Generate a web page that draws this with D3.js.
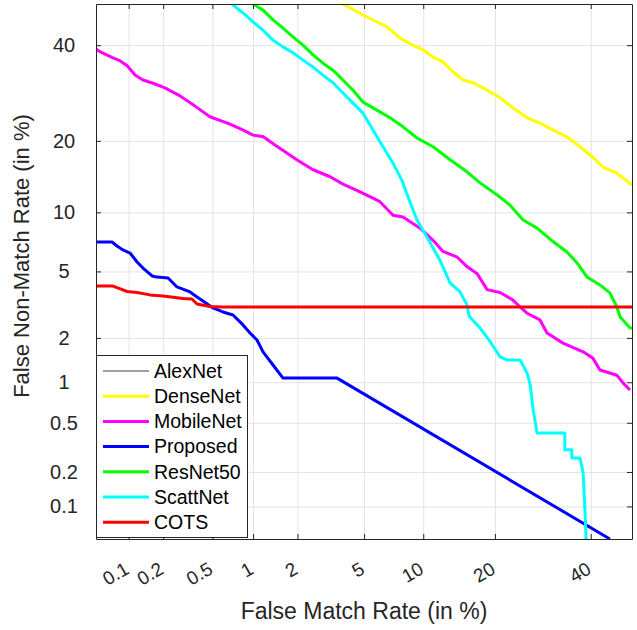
<!DOCTYPE html>
<html>
<head>
<meta charset="utf-8">
<script src="https://cdn.jsdelivr.net/npm/d3@7"></script>
<style>
  body { margin: 0; background: #fff; }
  svg { font-family: "Liberation Sans", Arial, sans-serif; }
</style>
</head>
<body>
<svg id="chart" width="637" height="630"></svg>
<script>
// tick values are in percent, axes use a normal-deviate (DET) scale
var tickValues = [0.1, 0.2, 0.5, 1, 2, 5, 10, 20, 40]
var tickLabels = ['0.1', '0.2', '0.5', '1', '2', '5', '10', '20', '40']
var axisMin = 0.05
var axisMax = 50

var names = ['AlexNet', 'DenseNet', 'MobileNet', 'Proposed', 'ResNet50', 'ScattNet', 'COTS']
var colors = ['#808080', '#ffff00', '#ff00ff', '#0000ff', '#00ff00', '#00ffff', '#ff0000']

// [FMR %, FNMR %]
var alexNet = []

var denseNet = [
  [3.8, 50], [4.93, 47.3], [5.87, 45.6], [6.63, 44.4], [7.72, 41.7], [8.94, 40.0],
  [9.97, 38.9], [11.1, 37.2], [12.3, 36.1], [13.6, 33.8], [15.0, 32.0], [16.45, 31.4],
  [18.7, 29.8], [20.9, 28.2], [23.25, 26.1], [26.0, 24.2], [28.6, 23.2], [31.4, 21.9],
  [34.5, 20.7], [37.5, 19.0], [40.5, 17.3], [42.9, 15.8], [46.3, 14.9], [50, 13.3]
]

var mobileNet = [
  [0.05, 39.1], [0.055, 38.4], [0.072, 37.0], [0.084, 36.3], [0.097, 35.2], [0.114, 33.1],
  [0.134, 32.0], [0.164, 31.3], [0.207, 30.3], [0.276, 28.6], [0.365, 26.5], [0.478, 24.4],
  [0.68, 23.0], [0.85, 21.9], [1.0, 21.0], [1.18, 20.7], [1.42, 19.3], [1.98, 16.9],
  [2.51, 15.4], [3.19, 14.4], [3.8, 13.4], [4.75, 12.4], [5.73, 11.5], [6.09, 11.2],
  [7.12, 9.7], [7.99, 9.5], [9.66, 8.4], [11.1, 7.3], [12.3, 6.4], [14.1, 6.0],
  [15.6, 5.3], [17.1, 4.85], [18.7, 3.95], [20.9, 3.8], [23.2, 3.44], [24.6, 3.12],
  [25.9, 2.87], [28.6, 2.6], [30.1, 2.15], [33.6, 1.85], [38.2, 1.62], [40.5, 1.47],
  [42.2, 1.22], [46.3, 1.12], [47.8, 0.99], [49.5, 0.88]
]

var proposed = [
  [0.05, 7.16], [0.0706, 7.16], [0.0784, 6.83], [0.089, 6.52], [0.103, 6.28], [0.119, 5.63],
  [0.134, 5.22], [0.161, 4.72], [0.177, 4.65], [0.22, 4.6], [0.261, 4.09], [0.333, 3.83],
  [0.379, 3.58], [0.422, 3.39], [0.505, 3.08], [0.602, 2.91], [0.715, 2.79], [0.847, 2.42],
  [0.951, 2.15], [1.066, 1.94], [1.175, 1.62], [1.377, 1.32], [1.608, 1.07], [3.51, 1.07],
  [44.6, 0.05]
]

var resNet50 = [
  [1.0, 50], [1.175, 48.5], [1.377, 46.1], [1.608, 44.1], [1.87, 42.0], [2.17, 40.0],
  [2.51, 37.7], [2.89, 35.8], [3.32, 34.2], [3.8, 32.0], [4.34, 29.8], [4.93, 27.3],
  [5.87, 25.7], [6.87, 24.2], [7.99, 22.5], [9.34, 20.5], [11.1, 19.0], [13.2, 16.9],
  [15.55, 15.1], [17.5, 13.6], [20.4, 12.0], [22.7, 10.8], [25.2, 9.2], [28.0, 8.4],
  [31.4, 7.2], [34.5, 6.36], [36.8, 5.56], [39.1, 4.66], [42.2, 4.2], [44.6, 3.78],
  [46.3, 3.12], [47.1, 2.71], [49.5, 2.32], [50, 2.3]
]

var scattNet = [
  [0.703, 50], [0.847, 47.8], [1.0, 45.6], [1.175, 43.6], [1.377, 41.2], [1.608, 39.6],
  [1.87, 38.2], [2.17, 36.5], [2.51, 34.9], [2.89, 33.1], [3.32, 31.4], [3.8, 29.2],
  [4.34, 27.1], [4.93, 25.1], [5.59, 21.9], [6.32, 19.0], [7.11, 16.4], [7.89, 13.9],
  [8.45, 11.8], [9.34, 9.2], [10.4, 7.6], [11.9, 5.77], [13.2, 4.31], [14.55, 3.83],
  [15.55, 3.21], [15.85, 2.75], [17.4, 2.35], [19.0, 1.94], [20.9, 1.5], [22.1, 1.43],
  [24.6, 1.43], [26.0, 1.16], [26.6, 0.956], [27.2, 0.626], [28.0, 0.416], [34.0, 0.416],
  [34.0, 0.305], [35.6, 0.305], [35.6, 0.262], [37.5, 0.262], [38.2, 0.196], [38.6, 0.099],
  [38.9, 0.051], [39.1, 0.04]
]

var cots = [
  [0.05, 4.14], [0.072, 4.14], [0.0784, 4.05], [0.097, 3.85], [0.119, 3.8], [0.154, 3.68],
  [0.199, 3.63], [0.292, 3.5], [0.345, 3.48], [0.379, 3.25], [0.478, 3.14], [0.6, 3.12],
  [50, 3.12]
]

var series = [alexNet, denseNet, mobileNet, proposed, resNet50, scattNet, cots]

// inverse normal cdf (Acklam)
function probit(p) {
  var a = [-3.969683028665376e+01, 2.209460984245205e+02, -2.759285104469687e+02, 1.383577518672690e+02, -3.066479806614716e+01, 2.506628277459239e+00]
  var b = [-5.447609879822406e+01, 1.615858368580409e+02, -1.556989798598866e+02, 6.680131188771972e+01, -1.328068155288572e+01]
  var c = [-7.784894002430293e-03, -3.223964580411365e-01, -2.400758277161838e+00, -2.549732539343734e+00, 4.374664141464968e+00, 2.938163982698783e+00]
  var d = [7.784695709041462e-03, 3.224671290700398e-01, 2.445134137142996e+00, 3.754408661907416e+00]
  var plow = 0.02425, q, r
  if (p < plow) {
    q = Math.sqrt(-2 * Math.log(p))
    return (((((c[0]*q+c[1])*q+c[2])*q+c[3])*q+c[4])*q+c[5]) / ((((d[0]*q+d[1])*q+d[2])*q+d[3])*q+1)
  }
  if (p <= 1 - plow) {
    q = p - 0.5; r = q * q
    return (((((a[0]*r+a[1])*r+a[2])*r+a[3])*r+a[4])*r+a[5])*q / (((((b[0]*r+b[1])*r+b[2])*r+b[3])*r+b[4])*r+1)
  }
  q = Math.sqrt(-2 * Math.log(1 - p))
  return -(((((c[0]*q+c[1])*q+c[2])*q+c[3])*q+c[4])*q+c[5]) / ((((d[0]*q+d[1])*q+d[2])*q+d[3])*q+1)
}
function dev(v) { return probit(v / 100) }

var plotLeft = 96, plotTop = 4, plotRight = 632, plotBottom = 539
var w = plotRight - plotLeft, h = plotBottom - plotTop

var svg = d3.select('#chart')

var x = d3.scaleLinear().domain([dev(axisMin), dev(axisMax)]).range([0, w])
var y = d3.scaleLinear().domain([dev(axisMin), dev(axisMax)]).range([h, 0])
var devTicks = tickValues.map(dev)
function label(d, i) { return tickLabels[i] }

var g = svg.append('g').attr('transform', 'translate(' + plotLeft + ',' + plotTop + ')')

g.append('defs').append('clipPath').attr('id', 'clip')
  .append('rect').attr('width', w).attr('height', h)

// grid
g.append('g')
  .attr('transform', 'translate(0,' + h + ')')
  .call(d3.axisBottom(x).tickValues(devTicks).tickSize(-h).tickFormat(''))
  .call(function(s) { s.select('.domain').remove() })
  .selectAll('line').attr('stroke', '#e3e3e3')
g.append('g')
  .call(d3.axisLeft(y).tickValues(devTicks).tickSize(-w).tickFormat(''))
  .call(function(s) { s.select('.domain').remove() })
  .selectAll('line').attr('stroke', '#e3e3e3')

// curves
var line = d3.line()
  .x(function(d) { return x(dev(d[0])) })
  .y(function(d) { return y(dev(d[1])) })

g.append('g').attr('clip-path', 'url(#clip)')
  .selectAll('path')
  .data(series)
  .enter()
  .append('path')
    .attr('d', function(d) { return d.length ? line(d) : null })
    .attr('fill', 'none')
    .attr('stroke', function(d, i) { return colors[i] })
    .attr('stroke-width', function(d, i) { return i == 0 ? 1.5 : 3 })
    .attr('stroke-linejoin', 'round')

// box with inward ticks
function styleAxis(s) {
  s.select('.domain').attr('stroke', '#262626')
  s.selectAll('.tick line').attr('stroke', '#262626')
}
g.append('g').attr('transform', 'translate(0,' + h + ')')
  .call(d3.axisBottom(x).tickValues(devTicks).tickSizeInner(-5).tickSizeOuter(0).tickFormat(''))
  .call(styleAxis)
g.append('g')
  .call(d3.axisTop(x).tickValues(devTicks).tickSizeInner(-5).tickSizeOuter(0).tickFormat(''))
  .call(styleAxis)
g.append('g')
  .call(d3.axisLeft(y).tickValues(devTicks).tickSizeInner(-5).tickSizeOuter(0).tickFormat(''))
  .call(styleAxis)
g.append('g').attr('transform', 'translate(' + w + ',0)')
  .call(d3.axisRight(y).tickValues(devTicks).tickSizeInner(-5).tickSizeOuter(0).tickFormat(''))
  .call(styleAxis)

// tick labels
g.append('g').selectAll('text')
  .data(devTicks)
  .enter()
  .append('text')
    .attr('transform', function(d) { return 'translate(' + (x(d) - 5) + ',' + (h + 22) + ') rotate(-30)' })
    .attr('text-anchor', 'end')
    .attr('dy', '0.71em')
    .attr('font-size', 19)
    .attr('fill', '#262626')
    .text(label)

g.append('g').selectAll('text')
  .data(devTicks)
  .enter()
  .append('text')
    .attr('x', -32)
    .attr('y', function(d) { return y(d) })
    .attr('dy', '0.35em')
    .attr('text-anchor', 'middle')
    .attr('font-size', 20)
    .attr('fill', '#262626')
    .text(label)

// axis titles
svg.append('text')
  .attr('x', plotLeft + w / 2)
  .attr('y', 619)
  .attr('text-anchor', 'middle')
  .attr('font-size', 23)
  .attr('fill', '#262626')
  .text('False Match Rate (in %)')

svg.append('text')
  .attr('transform', 'translate(29,256) rotate(-90)')
  .attr('text-anchor', 'middle')
  .attr('font-size', 22)
  .attr('fill', '#262626')
  .text('False Non-Match Rate (in %)')

// legend
var legend = svg.append('g').attr('transform', 'translate(96.5,355.5)')
legend.append('rect')
  .attr('width', 151)
  .attr('height', 182)
  .attr('fill', '#fff')
  .attr('stroke', '#262626')

var items = legend.selectAll('g.item')
  .data(names)
  .enter()
  .append('g')
    .attr('class', 'item')
    .attr('transform', function(d, i) { return 'translate(0,' + (15.5 + i * 25.2) + ')' })

items.append('line')
  .attr('x1', 6.5).attr('x2', 52.5)
  .attr('stroke', function(d, i) { return colors[i] })
  .attr('stroke-width', function(d, i) { return i == 0 ? 1.5 : 3 })

items.append('text')
  .attr('x', 57.5)
  .attr('dy', '0.35em')
  .attr('font-size', 19.5)
  .attr('fill', '#000')
  .text(function(d) { return d })
</script>
</body>
</html>
